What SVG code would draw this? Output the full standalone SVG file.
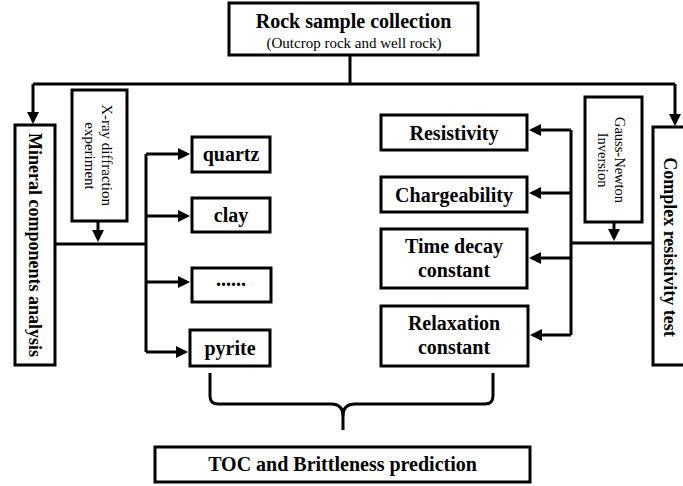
<svg xmlns="http://www.w3.org/2000/svg" width="683" height="486" viewBox="0 0 683 486">
<defs>
<style>
.box{fill:#fff;stroke:#000;stroke-width:3}
.c{fill:none;stroke:#000;stroke-width:3}
.a{marker-end:url(#ah)}
.b{font-family:"Liberation Serif","Times New Roman",serif;font-weight:bold;font-size:20px;text-anchor:middle;fill:#000}
.bv{font-family:"Liberation Serif","Times New Roman",serif;font-weight:bold;font-size:18px;text-anchor:middle;fill:#000}
.r{font-family:"Liberation Serif","Times New Roman",serif;font-size:15px;text-anchor:middle;fill:#000}
.rs{font-family:"Liberation Serif","Times New Roman",serif;font-size:14.5px;text-anchor:middle;fill:#000}
</style>
<marker id="ah" markerUnits="userSpaceOnUse" markerWidth="13" markerHeight="13" refX="9" refY="6" orient="auto">
<path d="M0,0 L12,6 L0,12 z" fill="#000"/>
</marker>
</defs>
<rect width="683" height="486" fill="#fff"/>

<g id="connectors">
<path class="c" d="M350,55 V84"/>
<path class="c" d="M33,84 H675"/>
<path class="c a" d="M33,84 V121"/>
<path class="c a" d="M675,84 V123"/>
<path class="c a" d="M98,221 V239"/>
<path class="c" d="M55,244 H146"/>
<path class="c" d="M146,154 V352"/>
<path class="c a" d="M146,154 H187"/>
<path class="c a" d="M146,216 H187"/>
<path class="c a" d="M146,282 H187"/>
<path class="c a" d="M146,352 H185"/>
<path class="c a" d="M614,222 V238"/>
<path class="c" d="M571,243 H653"/>
<path class="c" d="M571,130 V335"/>
<path class="c a" d="M571,130 H532"/>
<path class="c a" d="M571,193 H532"/>
<path class="c a" d="M571,258 H532"/>
<path class="c a" d="M571,335 H533"/>
<path class="c" d="M210,373 V396 Q210,404 218,404 H331 Q343,404 343,416 V430"/>
<path class="c" d="M493,373 V396 Q493,404 485,404 H355 Q343,404 343,416"/>
</g>

<g id="rock-sample">
<rect class="box" x="229" y="3" width="249" height="52"/>
<text class="b" x="353.5" y="28">Rock sample collection</text>
<text class="r" x="354" y="48">(Outcrop rock and well rock)</text>
</g>

<g id="mineral">
<rect class="box" x="15" y="125" width="40" height="240"/>
<text class="bv" transform="translate(29,245) rotate(90)">Mineral components analysis</text>
</g>

<g id="xray">
<rect class="box" x="72" y="90" width="55" height="131"/>
<text class="r" transform="translate(102,155) rotate(90)">X-ray diffraction</text>
<text class="r" transform="translate(85,156) rotate(90)">experiment</text>
</g>

<g id="quartz">
<rect class="box" x="192" y="137" width="78" height="35"/>
<text class="b" x="231" y="161">quartz</text>
</g>
<g id="clay">
<rect class="box" x="192" y="198" width="78" height="34"/>
<text class="b" x="231" y="222">clay</text>
</g>
<g id="others">
<rect class="box" x="192" y="268" width="79" height="34"/>
<text class="b" x="231" y="286">......</text>
</g>
<g id="pyrite">
<rect class="box" x="190" y="330" width="80" height="36"/>
<text class="b" x="230" y="355">pyrite</text>
</g>

<g id="resistivity">
<rect class="box" x="381" y="115" width="146" height="35"/>
<text class="b" x="454" y="140">Resistivity</text>
</g>
<g id="chargeability">
<rect class="box" x="381" y="177" width="146" height="35"/>
<text class="b" x="454" y="202">Chargeability</text>
</g>
<g id="time-decay">
<rect class="box" x="381" y="229" width="146" height="59"/>
<text class="b" x="454" y="253">Time decay</text>
<text class="b" x="454" y="277">constant</text>
</g>
<g id="relaxation">
<rect class="box" x="381" y="306" width="147" height="60"/>
<text class="b" x="454" y="330">Relaxation</text>
<text class="b" x="454" y="354">constant</text>
</g>

<g id="gauss-newton">
<rect class="box" x="585" y="97" width="57" height="125"/>
<text class="rs" transform="translate(615,160) rotate(90)">Gauss-Newton</text>
<text class="rs" transform="translate(598,160) rotate(90)">Inversion</text>
</g>

<g id="complex">
<rect class="box" x="653" y="127" width="40" height="238"/>
<text class="bv" transform="translate(664,247) rotate(90)">Complex resistivity test</text>
</g>

<g id="toc">
<rect class="box" x="155" y="447" width="375" height="35"/>
<text class="b" x="342.5" y="471">TOC and Brittleness prediction</text>
</g>
</svg>
